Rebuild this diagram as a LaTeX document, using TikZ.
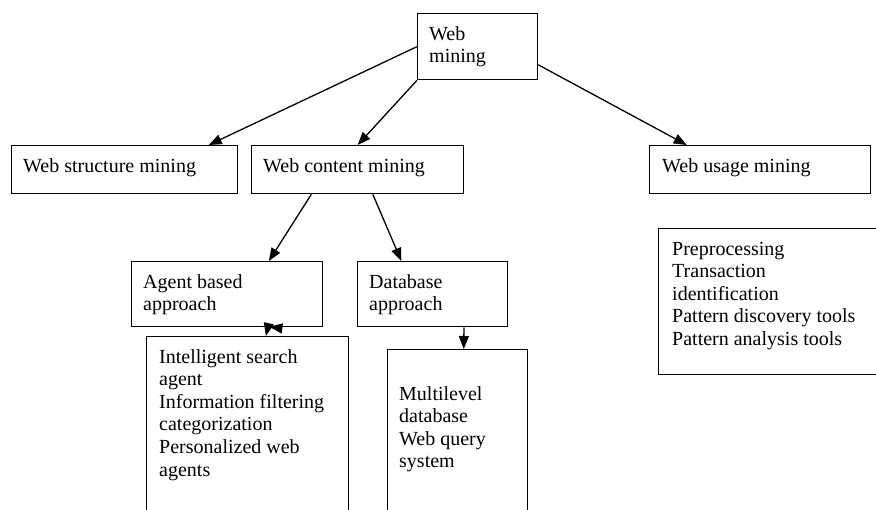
\documentclass[tikz,border=0pt]{standalone}
\usepackage{fontspec}
\setmainfont{Liberation Serif}
\usetikzlibrary{arrows.meta,calc}
\newcommand\firstline{\rule{0pt}{15pt}}
\begin{document}
\begin{tikzpicture}[x=1pt,y=-1pt,
  box/.style={draw,line width=1.3pt,anchor=north west,inner sep=0pt,rectangle},
  txt/.style={anchor=north west,inner sep=0pt,align=left,font=\fontsize{20}{22.6}\selectfont},
  arr/.style={line width=1.3pt,-{Triangle[length=13pt,width=10pt]}}]
\useasboundingbox (0,0) rectangle (876,510);
\clip (0,0) rectangle (876,510);
% boxes
\node[box,minimum width=120pt,minimum height=66pt] (wm) at (417,13) {};
\node[box,minimum width=226pt,minimum height=48pt] (ws) at (11,145) {};
\node[box,minimum width=212pt,minimum height=48pt] (wc) at (251,145) {};
\node[box,minimum width=221pt,minimum height=48pt] (wu) at (649,145) {};
\node[box,minimum width=191pt,minimum height=65pt] (ab) at (131,261) {};
\node[box,minimum width=150pt,minimum height=65pt] (db) at (357,261) {};
\node[box,minimum width=202pt,minimum height=200pt] (al) at (146,336) {};
\node[box,minimum width=140pt,minimum height=200pt] (dl) at (387,349) {};
\node[box,minimum width=240pt,minimum height=146pt] (ul) at (658,228) {};
% texts
\node[txt] (wmt) at (429,25) {\firstline Web\\mining};
\node[txt] (wst) at (23,157) {\firstline Web structure mining};
\node[txt] (wct) at (263,157) {\firstline Web content mining};
\node[txt] (wut) at (662,157) {\firstline Web usage mining};
\node[txt] (abt) at (143,273) {\firstline Agent based\\approach};
\node[txt] (dbt) at (369,273) {\firstline Database\\approach};
\node[txt] (alt) at (159,348) {\firstline Intelligent search\\agent\\Information filtering\\categorization\\Personalized web\\agents};
\node[txt] (dlt) at (399,385) {\firstline Multilevel\\database\\Web query\\system};
\node[txt] (ult) at (672,240) {\firstline Preprocessing\\Transaction\\identification\\Pattern discovery tools\\Pattern analysis tools};
% connectors
\draw[arr] (wm.west) -- ($(ws.north west)!0.87!(ws.north east)$);
\draw[arr] (wm.south west) -- (wc.north);
\draw[arr] ($(wm.north east)!0.77!(wm.south east)$) -- ($(wu.north west)!0.17!(wu.north east)$);
\draw[arr] ($(wc.south west)!0.283!(wc.south east)$) -- ($(ab.north west)!0.717!(ab.north east)$);
\draw[arr] ($(wc.south west)!0.571!(wc.south east)$) -- ($(db.north west)!0.293!(db.north east)$);
\draw[arr] ($(ab.south west)!0.712!(ab.south east)$) -- ($(al.north west)!0.59!(al.north east)$);
\draw[arr] ($(ab.south west)!0.78!(ab.south east)+(0,1)$) -- ($(ab.south west)!0.72!(ab.south east)+(0,-0.5)$);
\draw[arr] ($(db.south west)!0.707!(db.south east)$) -- ($(dl.north west)!0.543!(dl.north east)$);
\end{tikzpicture}
\end{document}
